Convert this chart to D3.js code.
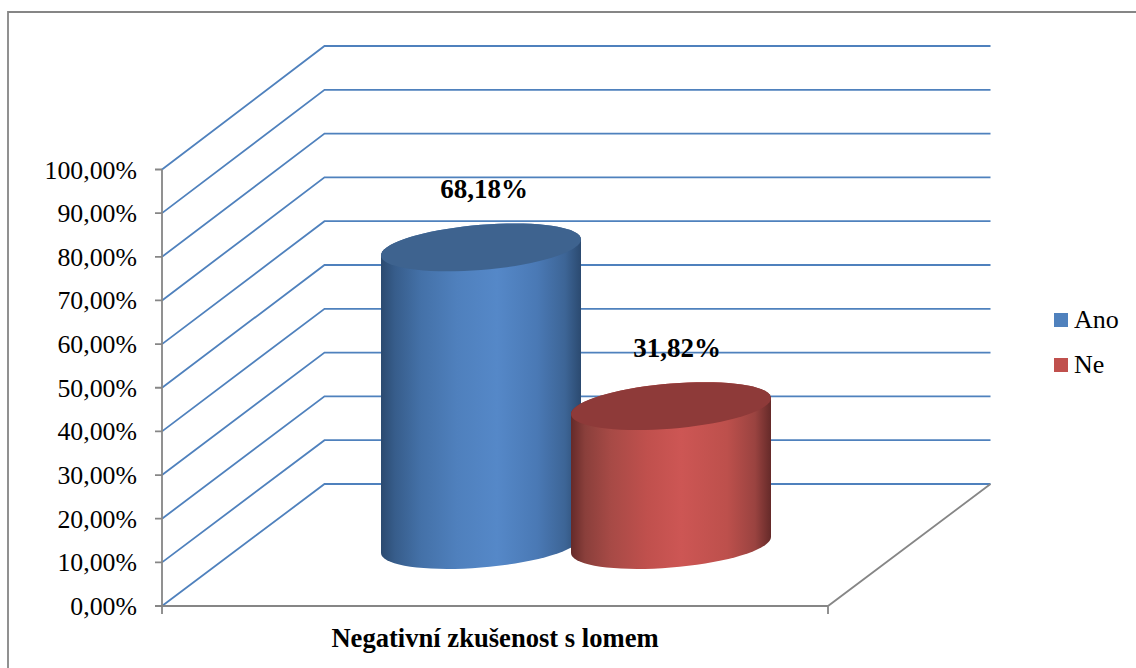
<!DOCTYPE html>
<html>
<head>
<meta charset="utf-8">
<title>Negativní zkušenost s lomem</title>
<script src="https://d3js.org/d3.v7.min.js"></script>
<style>
html, body { margin: 0; padding: 0; background: #fff; overflow: hidden; }
svg { display: block; }
text { font-family: "Liberation Serif", "Times New Roman", serif; fill: #000; }
</style>
</head>
<body>
<svg id="chart" width="1136" height="668"></svg>
<script>
// Chart values
const categoryLabel = "Negativní zkušenost s lomem";
const seriesNames = ["Ano", "Ne"];
const seriesValues = [68.18, 31.82];
const axisTicks = [0, 10, 20, 30, 40, 50, 60, 70, 80, 90, 100];

const sideStops = {
  Ano: [[0, "#2b4a70"], [0.07, "#375d8b"], [0.2, "#4471a8"], [0.38, "#4f80bd"], [0.58, "#5588c8"], [0.78, "#4a79b5"], [0.92, "#3d6596"], [1, "#2b4a70"]],
  Ne: [[0, "#652a29"], [0.07, "#8a3f3b"], [0.2, "#a74a46"], [0.38, "#c0504d"], [0.55, "#cd5654"], [0.78, "#bd504c"], [0.92, "#9a4340"], [1, "#652a29"]]
};
const topFill = { Ano: "#3e638f", Ne: "#8e3a39" };
const swatchFill = { Ano: "#4f81bd", Ne: "#c0504d" };

const svg = d3.select("#chart");
const defs = svg.append("defs");

// Front plane of the 3D box and its back wall
const y = d3.scaleLinear().domain([0, 100]).range([606, 169.5]);
const yBack = d3.scaleLinear().domain([0, 100]).range([484, 46]);
const x = d3.scaleLinear().domain([0, 1]).range([162, 828]);
const depthX = 162.5;
const axisGray = "#868686";
const gridBlue = "#4f81bd";

// Chart-area frame, open on the right and at the bottom
svg.append("path")
  .attr("d", "M8,668V12H1136")
  .attr("fill", "none")
  .attr("stroke", axisGray)
  .attr("stroke-width", 1.8);

// Gridlines: up the side wall, then across the back wall
svg.append("g").selectAll("path")
  .data(axisTicks)
  .join("path")
  .attr("fill", "none")
  .attr("stroke", gridBlue)
  .attr("stroke-width", 1.8)
  .attr("d", d => d3.line()([
    [x(0), y(d)],
    [x(0) + depthX, yBack(d)],
    [x(1) + depthX, yBack(d)]
  ]));

// Front floor edge, value axis and tick marks
const axisPath = d3.path();
axisPath.moveTo(x(0), y(100));
axisPath.lineTo(x(0), y(0));
axisPath.lineTo(x(1), y(0));
axisPath.lineTo(x(1) + depthX, yBack(0));
axisTicks.forEach(t => {
  axisPath.moveTo(x(0) - 7, y(t));
  axisPath.lineTo(x(0), y(t));
});
[0, 1].forEach(t => {
  axisPath.moveTo(x(t), y(0));
  axisPath.lineTo(x(t), y(0) + 8);
});
svg.append("path")
  .attr("d", axisPath.toString())
  .attr("fill", "none")
  .attr("stroke", axisGray)
  .attr("stroke-width", 1.8);

// Tick labels in Czech number format
const fmt = v => d3.format(".2f")(v).replace(".", ",") + "%";
svg.append("g").selectAll("text")
  .data(axisTicks)
  .join("text")
  .attr("x", 137)
  .attr("y", d => y(d) + 9)
  .attr("text-anchor", "end")
  .attr("font-size", 25.8)
  .text(fmt);

// Cylinders: sheared ellipses give the tilted caps
const cx = d3.scalePoint().domain(seriesNames).range([481, 671]);
const labelX = d3.scalePoint().domain(seriesNames).range([484, 677]);
const rx = 100, shear = 8, ry = 22.6, floorShift = 61;
const baseY = y(0) - floorShift;
const capPoint = (c, yc, t) => [c + rx * Math.cos(t), yc - shear * Math.cos(t) + ry * Math.sin(t)];
const capPath = (c, yc) => {
  const pts = d3.range(0, 73).map(i => capPoint(c, yc, i / 72 * 2 * Math.PI));
  return d3.line()(pts) + "Z";
};
const sidePath = (c, yTop, yBase) => {
  const lower = d3.range(0, 37).map(i => capPoint(c, yBase, i / 36 * Math.PI));
  const upper = d3.range(0, 37).map(i => capPoint(c, yTop, Math.PI + i / 36 * Math.PI));
  return d3.line()(lower.concat(upper)) + "Z";
};

const data = seriesNames.map((name, i) => ({ name, value: seriesValues[i] }));

data.forEach(d => {
  const grad = defs.append("linearGradient")
    .attr("id", "side-" + d.name)
    .attr("x1", 0).attr("x2", 1).attr("y1", 0).attr("y2", 0);
  sideStops[d.name].forEach(s => grad.append("stop").attr("offset", s[0]).attr("stop-color", s[1]));
});

const cylinders = svg.append("g").selectAll("g")
  .data(data)
  .join("g");

const topY = d => baseY - (y(0) - y(d.value));

cylinders.append("path")
  .attr("d", d => sidePath(cx(d.name), topY(d), baseY))
  .attr("fill", d => `url(#side-${d.name})`);

cylinders.append("path")
  .attr("d", d => capPath(cx(d.name), topY(d)))
  .attr("fill", d => topFill[d.name]);

// Value labels above each cylinder
svg.append("g").selectAll("text")
  .data(data)
  .join("text")
  .attr("x", d => labelX(d.name))
  .attr("y", d => topY(d) - 49)
  .attr("text-anchor", "middle")
  .attr("font-size", 27)
  .attr("font-weight", "bold")
  .text(d => fmt(d.value));

// Category label
svg.append("text")
  .attr("x", 495)
  .attr("y", 647)
  .attr("text-anchor", "middle")
  .attr("font-size", 26.6)
  .attr("font-weight", "bold")
  .text(categoryLabel);

// Legend
const legendY = d3.scalePoint().domain(seriesNames).range([320, 365]);
const legend = svg.append("g").selectAll("g")
  .data(seriesNames)
  .join("g");
legend.append("rect")
  .attr("x", 1054)
  .attr("y", d => legendY(d) - 7)
  .attr("width", 14)
  .attr("height", 14)
  .attr("fill", d => swatchFill[d]);
legend.append("text")
  .attr("x", 1074)
  .attr("y", d => legendY(d) + 8)
  .attr("font-size", 26)
  .text(d => d);
</script>
</body>
</html>
